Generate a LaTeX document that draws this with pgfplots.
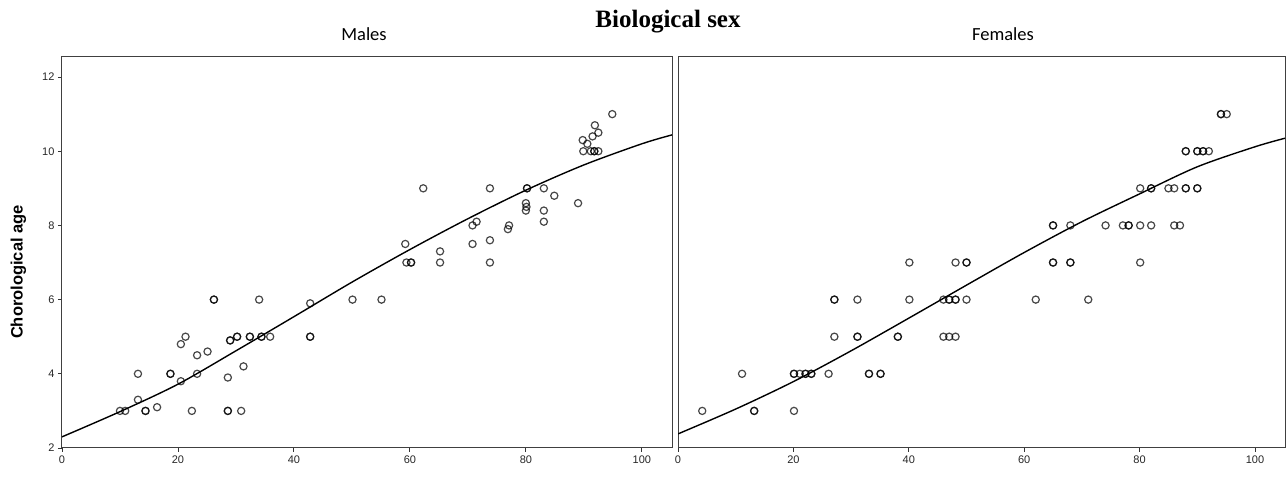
\documentclass[border=0pt]{standalone}
\usepackage{fontspec}
\setmainfont{Liberation Sans}
\newfontfamily\calibri{Carlito}
\newfontfamily\timesf{Liberation Serif}
\usepackage{pgfplots}
\pgfplotsset{compat=1.18}

% 1pt here = 1px of the reference
\pgfplotsset{
  panel/.style={
    scale only axis,
    height=391pt,
    ymin=2, ymax=12.54,
    xmin=0, xmax=105.2,
    xtick={0,20,...,100},
    ytick={2,4,...,12},
    axis line style={draw=black!75, line width=1pt},
    tick style={draw=black!80, line width=0.9pt},
    tick align=outside,
    major tick length=4pt,
    xtick pos=bottom, ytick pos=left,
    tick label style={font=\fontsize{11}{12}\selectfont, text=black!85},
    /pgf/number format/assume math mode=true,
    title style={font=\calibri\fontsize{18.5}{20}\selectfont, anchor=base, yshift=10pt},
  },
  pts/.style={only marks, mark=o, mark size=3.6pt,
    mark options={draw=black, draw opacity=0.72, line width=1.2pt}},
  fit/.style={no marks, smooth, black, line width=1.4pt},
}

\begin{document}
\begin{tikzpicture}
\useasboundingbox (0,0) rectangle (1286pt,484pt);

% ---- Males ----
\begin{axis}[panel,
    width=610pt,
    at={(62pt,36pt)}, anchor=south west,
    title={Males}, title style={at={(0.4951,1)}},
    ylabel={Chorological age},
    ylabel style={font=\bfseries\fontsize{16.5}{18}\selectfont,
        at={(rel axis cs:0,0.45)}, anchor=center, rotate=0, yshift=43.5pt},
]
\addplot[pts] table {
x y
10.0 3.0
10.9 3.0
13.1 3.3
13.1 4.0
14.4 3.0
14.4 3.0
16.4 3.1
18.7 4.0
18.7 4.0
20.5 3.8
20.5 4.8
21.3 5.0
22.4 3.0
23.3 4.0
23.3 4.5
25.1 4.6
26.2 6.0
26.2 6.0
28.6 3.9
28.6 3.0
28.6 3.0
29.0 4.9
29.0 4.9
30.2 5.0
30.2 5.0
30.9 3.0
31.3 4.2
32.4 5.0
32.4 5.0
34.0 6.0
34.4 5.0
34.4 5.0
35.9 5.0
42.8 5.9
42.8 5.0
42.8 5.0
50.1 6.0
55.1 6.0
59.2 7.5
59.4 7.0
60.2 7.0
60.2 7.0
62.3 9.0
65.2 7.3
65.2 7.0
70.8 7.5
70.8 8.0
71.5 8.1
73.8 9.0
73.8 7.6
73.8 7.0
76.9 7.9
77.1 8.0
80.2 9.0
80.2 9.0
80.0 8.6
80.1 8.5
80.0 8.4
83.1 9.0
84.9 8.8
83.1 8.4
83.1 8.1
89.0 8.6
89.8 10.3
89.9 10.0
90.6 10.2
91.2 10.0
91.5 10.4
91.8 10.0
91.8 10.0
91.9 10.7
92.5 10.5
92.5 10.0
94.9 11.0
};
\addplot[fit] coordinates {
(0,2.30) (10,2.98) (20,3.72) (30,4.62) (40,5.54) (50,6.47)
(60,7.35) (70,8.18) (80,8.95) (90,9.63) (100,10.20) (105.2,10.44)
};
\end{axis}

% ---- Females ----
\begin{axis}[panel,
    width=607pt,
    at={(678pt,36pt)}, anchor=south west,
    ytick=\empty,
    title={Females}, title style={at={(0.5354,1)}},
]
\addplot[pts] table {
x y
4.2 3
11.1 4
13.2 3
13.2 3
20.1 3
20.1 4
20.1 4
21.1 4
22.1 4
22.1 4
23.1 4
23.1 4
26.1 4
27.1 6
27.1 6
27.1 5
31.1 6
31.1 5
31.1 5
33.1 4
33.1 4
35.1 4
35.1 4
38.1 5
38.1 5
40.1 7
40.1 6
46.0 6
47.0 6
47.0 6
48.1 6
48.1 6
46.0 5
47.0 5
48.1 5
48.1 7
50.0 7
50.0 7
50.0 6
62.0 6
65.0 7
65.0 7
65.0 8
65.0 8
68.0 7
68.0 7
68.0 8
71.1 6
74.1 8
77.1 8
78.1 8
78.1 8
80.1 8
80.1 7
80.1 9
82.0 8
82.0 9
82.0 9
85.0 9
86.0 9
86.0 8
87.0 8
88.0 9
88.0 9
90.0 9
90.0 9
88.0 10
88.0 10
90.0 10
90.0 10
91.0 10
91.0 10
92.0 10
94.1 11
94.1 11
95.1 11
};
\addplot[fit] coordinates {
(0,2.38) (10,3.05) (20,3.79) (30,4.62) (40,5.50) (50,6.39)
(60,7.27) (70,8.10) (80,8.85) (90,9.58) (100,10.12) (105.2,10.35)
};
\end{axis}

\node[font=\timesf\bfseries\fontsize{25}{27}\selectfont, anchor=base]
  at (668pt,456pt) {Biological sex};
\end{tikzpicture}
\end{document}
